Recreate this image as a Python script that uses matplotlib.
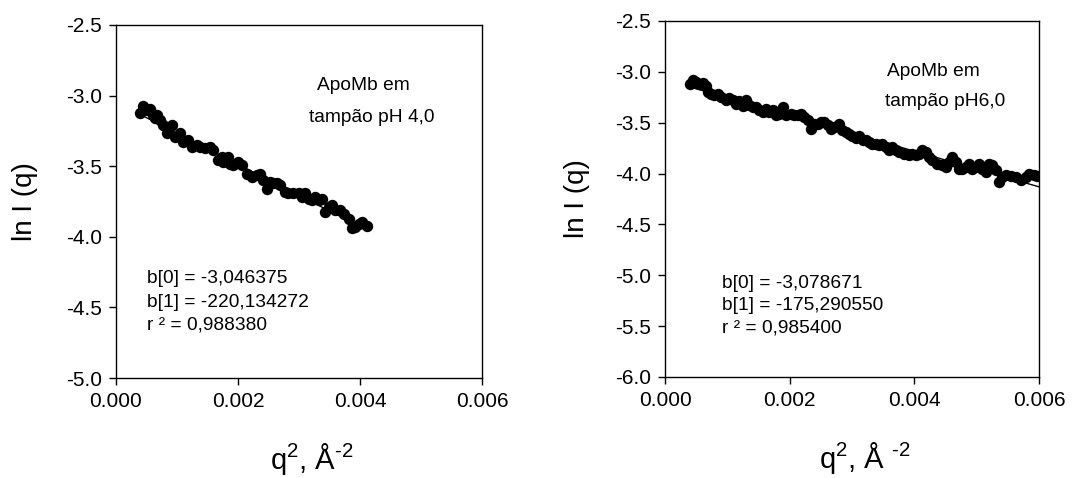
import matplotlib
matplotlib.use("Agg")
import matplotlib.pyplot as plt
import numpy as np

plt.rcParams["font.family"] = ["Liberation Sans", "DejaVu Sans"]
plt.rcParams["axes.unicode_minus"] = False
plt.rcParams["mathtext.fontset"] = "custom"
plt.rcParams["mathtext.rm"] = "Liberation Sans"
plt.rcParams["mathtext.it"] = "Liberation Sans"
plt.rcParams["mathtext.default"] = "regular"

# Guinier plot, ApoMb in pH 4.0 buffer
q2_ph4 = [0.000394, 0.000449, 0.000503, 0.000558, 0.000613, 0.000640, 0.000667,
          0.000722, 0.000777, 0.000832, 0.000886, 0.000914, 0.000968, 0.001050,
          0.001105, 0.001187, 0.001242, 0.001324, 0.001379, 0.001461, 0.001543,
          0.001597, 0.001679, 0.001734, 0.001761, 0.001844, 0.001871, 0.001926,
          0.002008, 0.002062, 0.002144, 0.002226, 0.002309, 0.002363, 0.002418,
          0.002473, 0.002527, 0.002582, 0.002637, 0.002691, 0.002774, 0.002828,
          0.002910, 0.002992, 0.003047, 0.003102, 0.003156, 0.003211, 0.003266,
          0.003321, 0.003375, 0.003430, 0.003485, 0.003539, 0.003594, 0.003676,
          0.003731, 0.003813, 0.003868, 0.003922, 0.003977, 0.004032, 0.004114]
lnI_ph4 = [-3.126, -3.074, -3.103, -3.098, -3.138, -3.162, -3.138, -3.173, -3.209,
           -3.268, -3.221, -3.209, -3.292, -3.268, -3.327, -3.315, -3.362, -3.351,
           -3.362, -3.374, -3.362, -3.386, -3.457, -3.433, -3.469, -3.433, -3.481,
           -3.492, -3.469, -3.492, -3.552, -3.575, -3.563, -3.552, -3.599, -3.658,
           -3.611, -3.622, -3.622, -3.634, -3.681, -3.693, -3.693, -3.693, -3.717,
           -3.693, -3.729, -3.741, -3.717, -3.741, -3.729, -3.823, -3.788, -3.776,
           -3.811, -3.807, -3.835, -3.871, -3.941, -3.930, -3.906, -3.894, -3.925]
fit_ph4 = [-3.046375, -220.134272]
r2_ph4 = "0,988380"

# Guinier plot, ApoMb in pH 6.0 buffer
q2_ph6 = [0.000401, 0.000443, 0.000497, 0.000550, 0.000604, 0.000657, 0.000684,
          0.000737, 0.000791, 0.000844, 0.000897, 0.000978, 0.001031, 0.001084,
          0.001138, 0.001191, 0.001245, 0.001298, 0.001351, 0.001405, 0.001458,
          0.001512, 0.001565, 0.001619, 0.001672, 0.001725, 0.001779, 0.001832,
          0.001886, 0.001939, 0.002019, 0.002073, 0.002126, 0.002179, 0.002233,
          0.002286, 0.002340, 0.002393, 0.002447, 0.002500, 0.002553, 0.002607,
          0.002660, 0.002714, 0.002794, 0.002847, 0.002901, 0.002954, 0.003007,
          0.003061, 0.003114, 0.003168, 0.003221, 0.003275, 0.003328, 0.003381,
          0.003435, 0.003488, 0.003542, 0.003595, 0.003649, 0.003702, 0.003755,
          0.003835, 0.003916, 0.003969, 0.004022, 0.004076, 0.004129, 0.004183,
          0.004236, 0.004290, 0.004370, 0.004450, 0.004503, 0.004557, 0.004610,
          0.004663, 0.004717, 0.004770, 0.004824, 0.004877, 0.004931, 0.004984,
          0.005037, 0.005091, 0.005144, 0.005198, 0.005251, 0.005304, 0.005358,
          0.005411, 0.005465, 0.005545, 0.005625, 0.005705, 0.005785, 0.005839,
          0.005919, 0.005972]
lnI_ph6 = [-3.123, -3.083, -3.100, -3.116, -3.109, -3.142, -3.198, -3.214, -3.231,
           -3.214, -3.247, -3.273, -3.254, -3.280, -3.313, -3.286, -3.339, -3.280,
           -3.329, -3.345, -3.345, -3.378, -3.395, -3.362, -3.395, -3.372, -3.427,
           -3.411, -3.345, -3.427, -3.411, -3.421, -3.427, -3.411, -3.444, -3.470,
           -3.558, -3.509, -3.516, -3.493, -3.493, -3.526, -3.558, -3.542, -3.509,
           -3.575, -3.591, -3.607, -3.634, -3.647, -3.634, -3.666, -3.673, -3.689,
           -3.706, -3.712, -3.722, -3.706, -3.739, -3.771, -3.739, -3.771, -3.788,
           -3.804, -3.820, -3.804, -3.820, -3.804, -3.771, -3.788, -3.837, -3.870,
           -3.902, -3.919, -3.935, -3.886, -3.837, -3.886, -3.952, -3.952, -3.935,
           -3.902, -3.952, -3.935, -3.909, -3.952, -3.984, -3.902, -3.919, -3.968,
           -4.083, -4.033, -4.017, -4.027, -4.033, -4.066, -4.033, -4.007, -4.017,
           -4.027]
fit_ph6 = [-3.078671, -175.290550]
r2_ph6 = "0,985400"

x_ticks = [0.000, 0.002, 0.004, 0.006]
y_ticks_ph4 = [-5.0, -4.5, -4.0, -3.5, -3.0, -2.5]
y_ticks_ph6 = [-6.0, -5.5, -5.0, -4.5, -4.0, -3.5, -3.0, -2.5]

fig = plt.figure(figsize=(10.92, 4.78), dpi=100)
ax1 = fig.add_axes([0.1062, 0.2092, 0.3352, 0.7385])
ax2 = fig.add_axes([0.6090, 0.2113, 0.3425, 0.7448])


def fmt_coef(v):
    return f"{v:.6f}".replace(".", ",")


def draw_panel(ax, q2, lnI, fit, r2, yticks, fit_end, title_lines, title_pos,
               coef_pos, xlabel, ylabel_x):
    q2 = np.asarray(q2)
    ax.plot(q2, lnI, "o", color="black", markersize=8.2, markeredgewidth=0,
            zorder=3)
    xf = np.array([q2.min(), fit_end])
    ax.plot(xf, fit[0] + fit[1] * xf, color="black", linewidth=1.0, zorder=2)

    ax.set_xlim(x_ticks[0], x_ticks[-1])
    ax.set_ylim(yticks[0], yticks[-1])
    ax.set_xticks(x_ticks)
    ax.set_xticklabels([f"{t:.3f}" for t in x_ticks])
    ax.set_yticks(yticks)
    ax.set_yticklabels([f"{t:.1f}" for t in yticks])
    ax.tick_params(direction="out", length=5, width=1, labelsize=15, pad=5,
                   top=False, right=False)
    for s in ax.spines.values():
        s.set_linewidth(1.0)

    ax.set_ylabel("ln I (q)", fontsize=20)
    ax.yaxis.set_label_coords(ylabel_x, 0.5)
    ax.set_xlabel(xlabel, fontsize=21)
    ax.xaxis.set_label_coords(0.535, -0.178)
    ax.xaxis.label.set_va("top")

    (tx1, ty1), (tx2, ty2) = title_pos
    ax.text(tx1, ty1, title_lines[0], fontsize=13.8, va="center", ha="left")
    ax.text(tx2, ty2, title_lines[1], fontsize=13.8, va="center", ha="left")

    cx, cys = coef_pos
    lines = [f"b[0] = {fmt_coef(fit[0])}", f"b[1] = {fmt_coef(fit[1])}",
             f"r ² = {r2}"]
    for cy, line in zip(cys, lines):
        ax.text(cx, cy, line, fontsize=13.8, va="center", ha="left")


draw_panel(ax1, q2_ph4, lnI_ph4, fit_ph4, r2_ph4, y_ticks_ph4, q2_ph4[-1],
           ["ApoMb em", "tampão pH 4,0"],
           [(0.00330, -2.925), (0.00316, -3.152)],
           (0.000508, [-4.292, -4.462, -4.625]),
           r"q$^2$, Å$^{\text{-}2}$", -0.212)

draw_panel(ax2, q2_ph6, lnI_ph6, fit_ph6, r2_ph6, y_ticks_ph6, 0.006,
           ["ApoMb em", "tampão pH6,0"],
           [(0.00356, -2.992), (0.00353, -3.296)],
           (0.000914, [-5.076, -5.302, -5.519]),
           r"q$^2$, Å $^{\text{-}2}$", -0.200)

fig.savefig("out.png", dpi=100)
